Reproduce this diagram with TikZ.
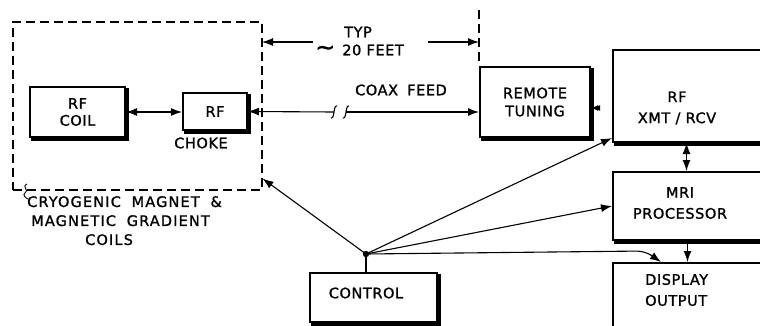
\documentclass[tikz,border=0pt]{standalone}
\usepackage{fontspec}
\setmainfont{DejaVu Sans}[LetterSpace=4,FakeBold=1.2]
\usetikzlibrary{arrows.meta,calc}
\newcommand\boxshadow[1]{\draw[shadowline] ($(#1.north east)+(1.2,2)$) -- ($(#1.south east)+(1.2,1.2)$) -- ($(#1.south west)+(2,1.2)$);}
\begin{document}
\begin{tikzpicture}[x=1pt,y=-1pt,
  >={Latex[length=11pt,width=8pt]},
  blk/.style={draw, line width=2pt, inner sep=0pt, align=center, font=\fontsize{14.5}{17}\selectfont},
  lbl/.style={inner sep=0pt, align=center, font=\fontsize{14.5}{17}\selectfont},
  conn/.style={line width=1.1pt},
  shadowline/.style={line width=3.6pt},
  dimline/.style={line width=1.1pt, dash pattern=on 9pt off 5pt}]
\useasboundingbox (0,0) rectangle (760,326);
\clip (0,0) rectangle (760,326);

% dashed enclosure
\node[draw, dimline, minimum width=249pt, minimum height=168pt, inner sep=0pt] (cryo) at (137.5,106) {};

% blocks
\node[blk, minimum width=95pt, minimum height=50pt] (coil) at (77.5,112) {RF\\COIL};
\node[blk, minimum width=64pt, minimum height=37pt] (choke) at (215,111.5) {RF};
\node[blk, minimum width=110pt, minimum height=70pt, font=\fontsize{14.5}{18}\selectfont] (remote) at (535,102) {REMOTE\\TUNING};
\node[blk, minimum width=187pt, minimum height=92pt] (rfx) at (706.5,96) {};
\node[blk, minimum width=187pt, minimum height=68pt] (mri) at (706.5,206) {};
\node[blk, minimum width=187pt, minimum height=97pt] (disp) at (706.5,311.5) {};
\node[blk, minimum width=127pt, minimum height=49pt] (control) at (373.5,297.5) {};
\foreach \b in {coil,choke,remote,rfx,mri,disp,control} {\boxshadow{\b}}

% texts
\node[lbl, font=\fontsize{14.5}{21}\selectfont] (rfxt) at (677,108) {RF\\XMT / RCV};
\node[lbl, font=\fontsize{14.5}{21}\selectfont] (mrit) at (680,203) {MRI\\PROCESSOR};
\node[lbl, anchor=west, align=left, font=\fontsize{14.5}{21}\selectfont] (dispt) at (645,290) {DISPLAY\\OUTPUT};
\node[lbl] (controlt) at (366,293) {CONTROL};
\node[lbl] (choket) at (201,143) {CHOKE};
\node[lbl] (coaxt) at (401,90) {COAX\hspace{4pt} FEED};
\node[lbl, anchor=west] (typ) at (344,32) {TYP};
\node[lbl, anchor=west] (feet) at (315,50) {{\fontsize{24}{24}\selectfont\textasciitilde}\hspace{7pt}20 FEET};
\node[lbl, anchor=north west, align=left, font=\fontsize{14.5}{19}\selectfont\addfontfeature{LetterSpace=8}] (cryot) at (27,196)
  {CRYOGENIC\hspace{5pt} MAGNET\hspace{5pt} \&\\\hspace*{4pt}MAGNETIC\hspace{5pt} GRADIENT\\\hspace*{58pt}COILS};

% squiggle from enclosure to its label
\coordinate (sq1) at (27,184);
\coordinate (sq2) at (28,199);
\draw[line width=0.9pt] (sq1) .. controls (21,187) and (30,190) .. (25,193) .. controls (22,195) and (26,198) .. (sq2);

% dimension
\coordinate (dimA) at (262,42);
\coordinate (dimB) at (313,42);
\coordinate (dimC) at (428,42);
\coordinate (dimD) at (479,42);
\coordinate (extT) at (479,10);
\coordinate (extB) at (479,63);
\draw[conn, ->] (dimB) -- (dimA);
\draw[conn, ->] (dimC) -- (dimD);
\draw[dimline] (extT) -- (extB);

% connectors
\draw[conn, <->] (coil.east) -- (coil.east -| choke.west);
\coordinate (brk1) at (334,112);
\coordinate (brk2) at (346,112);
\draw[conn, ->] (brk1) -- (choke.east);
\draw[conn, ->] (brk2) -- (brk2 -| remote.west);
\draw[line width=1.1pt] (331,118) .. controls (335,119) and (333,105) .. (337,106);
\draw[line width=1.1pt] (343,118) .. controls (347,119) and (345,105) .. (349,106);
\draw[conn, {Latex[length=7pt,width=6pt]}-{Latex[length=7pt,width=6pt]}] ($(remote.east)+(2,6)$) -- ($(remote.east)+(0,6)$ -| rfx.west);
\draw[conn, <->] ([xshift=-20pt]rfx.south) -- ([xshift=-20pt]mri.north);
\draw[conn, ->] ([xshift=-19pt]mri.south) -- ([xshift=-19pt]disp.north);

\coordinate (hub) at (366,254);
\draw[conn] (hub) -- (hub |- control.north);
\draw[conn, ->] (hub) -- ($(cryo.south east)+(0,-12)$);
\draw[conn, ->] (hub) -- ($(rfx.south west)+(0,-5)$);
\draw[conn, ->] (hub) -- (mri.west);
\draw[conn, ->, rounded corners=8pt] (hub) -- (645,251) -- ($(disp.north west)+(49,0)$);
\fill (hub) circle (3.2pt);
\end{tikzpicture}
\end{document}
